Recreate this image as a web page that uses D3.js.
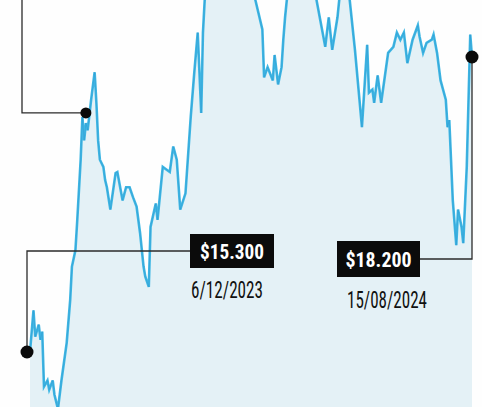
<!DOCTYPE html>
<html>
<head>
<meta charset="utf-8">
<script src="https://cdn.jsdelivr.net/npm/d3@7"></script>
<style>
  body { margin: 0; background: #ffffff; }
  svg { display: block; }
  .lbl { font-family: "Liberation Sans Narrow", "Roboto Condensed", "DejaVu Sans Condensed", Roboto, sans-serif; font-stretch: condensed; }
</style>
</head>
<body>
<div id="chart"></div>
<script>
// days since 6/12/2023 and price
const startDate = new Date(2023, 11, 6);
const days = [0, 2, 3, 5, 6, 7, 8, 10, 11, 13, 14, 16, 18, 21, 23, 24, 26, 27, 29, 30,
  31, 32, 33, 35, 37, 38, 39, 40, 42, 43, 44, 46, 49, 50, 53, 55, 57, 59, 61, 63,
  65, 66, 68, 69, 72, 73, 76, 80, 82, 84, 86, 89, 92, 94, 96, 98, 99, 100, 106, 113,
  120, 126, 129, 133, 134, 136, 139, 140, 142, 144, 145, 146, 147, 152, 157, 161, 164, 169, 171, 173,
  176, 177, 180, 183, 186, 190, 193, 194, 196, 197, 199, 201, 205, 208, 210, 212, 214, 216, 219, 222,
  223, 225, 227, 230, 231, 233, 235, 238, 239, 240, 242, 244, 245, 247, 248, 250, 252, 253];
const prices = [15300, 15710, 15450, 15570, 15420, 15500, 14960, 15020, 14930, 15020, 14880, 14740, 15020, 15390, 15810, 16140, 16300, 16580, 17190, 17610,
  17380, 17550, 17480, 17780, 18050, 17750, 17380, 17190, 17120, 16990, 16920, 16700, 17060, 17070, 16790, 16920, 16920, 16820, 16730, 16470,
  16140, 16040, 15940, 16530, 16760, 16600, 17120, 17070, 17320, 17190, 16700, 16860, 17610, 18040, 18440, 17650, 18440, 18760, 19150, 18960,
  19200, 18910, 18760, 18470, 18000, 18100, 17970, 18220, 17930, 18100, 18370, 18590, 18760, 19060, 18910, 19150, 18760, 18300, 18590, 18270,
  18590, 18760, 18910, 18760, 18270, 17510, 18320, 17850, 17880, 17750, 18020, 17750, 18240, 18300, 18440, 18370, 18440, 18140, 18370, 18510,
  18400, 18240, 18340, 18370, 18420, 18240, 17970, 17780, 17510, 17580, 16790, 16350, 16700, 16530, 16370, 17120, 18420, 18200];

// annotated points
const noteDays = [32, 0, 253];
const notePrices = [17650, 15300, 18200];
const noteLabels = [null, "$15.300", "$18.200"];
const noteDates = [null, "6/12/2023", "15/08/2024"];

const width = 482, height = 407;

const data = days.map((d, i) => ({ date: d3.timeDay.offset(startDate, d), value: prices[i] }));

const x = d3.scaleTime()
  .domain([startDate, d3.timeDay.offset(startDate, 253)])
  .range([30, 472]);

const y = d3.scaleLinear()
  .domain([15300, 18200])
  .range([352, 57]);

const svg = d3.select("#chart")
  .append("svg")
  .attr("width", width)
  .attr("height", height);

svg.append("rect")
  .attr("width", width)
  .attr("height", height)
  .attr("fill", "#fefefe");

// pale area under the line
svg.append("path")
  .datum(data)
  .attr("fill", "#e4f1f6")
  .attr("d", d3.area()
    .x(d => x(d.date))
    .y0(height + 5)
    .y1(d => y(d.value)));

const line = d3.line()
  .x(d => x(d.date))
  .y(d => y(d.value));

svg.append("path")
  .datum(data)
  .attr("fill", "none")
  .attr("stroke", "#40b8e4")
  .attr("stroke-width", 2.6)
  .attr("d", line);

svg.append("path")
  .datum(data)
  .attr("fill", "none")
  .attr("stroke", "#2a8fca")
  .attr("stroke-width", 0.7)
  .attr("opacity", 0.55)
  .attr("d", line);

const ink = "#2b2b2b";
const px = i => x(d3.timeDay.offset(startDate, noteDays[i]));
const py = i => y(notePrices[i]);

// leader to the top edge
svg.append("path")
  .attr("fill", "none")
  .attr("stroke", ink)
  .attr("stroke-width", 1.3)
  .attr("d", `M${x(startDate) - 8},0 V${py(0)} H${px(0)}`);

// label layout
const boxes = [null,
  { x: 190, y: 234, w: 84, h: 34, tw: 64, dy: 298, dw: 72, dx: 227 },
  { x: 337, y: 241, w: 83, h: 36, tw: 66, dy: 308, dw: 80, dx: 387 }];

const b1 = boxes[1];
svg.append("path")
  .attr("fill", "none")
  .attr("stroke", ink)
  .attr("stroke-width", 1.3)
  .attr("d", `M${b1.x},${b1.y + b1.h / 2} H${px(1) - 3} V${py(1)}`);

const b2 = boxes[2];
svg.append("path")
  .attr("fill", "none")
  .attr("stroke", ink)
  .attr("stroke-width", 1.3)
  .attr("d", `M${b2.x + b2.w},${b2.y + b2.h / 2} H${px(2)} V${py(2)}`);

svg.selectAll(".dot")
  .data(noteDays)
  .enter().append("circle")
  .attr("class", "dot")
  .attr("cx", (d, i) => px(i) + (i === 1 ? -3 : 0))
  .attr("cy", (d, i) => py(i))
  .attr("r", (d, i) => i === 0 ? 5.5 : 6.5)
  .attr("fill", "#0a0a0a");

[1, 2].forEach(i => {
  const b = boxes[i];
  svg.append("rect")
    .attr("x", b.x).attr("y", b.y)
    .attr("width", b.w).attr("height", b.h)
    .attr("fill", "#0b0b0b");
  svg.append("text")
    .attr("class", "lbl")
    .attr("x", b.x + b.w / 2 - b.tw / 2)
    .attr("y", b.y + b.h / 2 + 7.5)
    .attr("textLength", b.tw)
    .attr("lengthAdjust", "spacingAndGlyphs")
    .style("font-size", "21px")
    .style("font-weight", "bold")
    .attr("fill", "#ffffff")
    .text(noteLabels[i]);
  svg.append("text")
    .attr("class", "lbl")
    .attr("x", b.dx - b.dw / 2)
    .attr("y", b.dy)
    .attr("textLength", b.dw)
    .attr("lengthAdjust", "spacingAndGlyphs")
    .style("font-size", "23px")
    .attr("fill", "#111111")
    .text(noteDates[i]);
});
</script>
</body>
</html>
